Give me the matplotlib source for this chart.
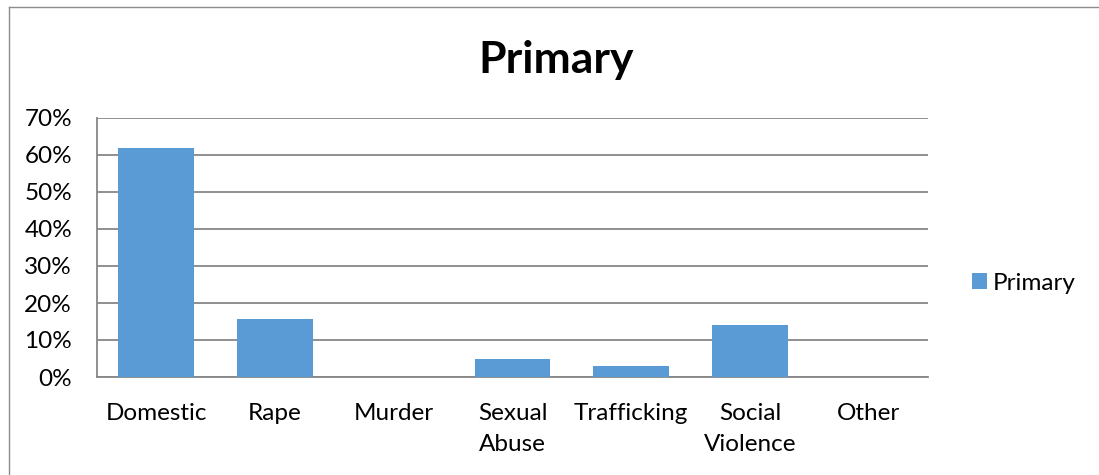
import matplotlib
matplotlib.use("Agg")
import matplotlib.pyplot as plt
from matplotlib.lines import Line2D
from matplotlib.ticker import PercentFormatter

categories = ["Domestic", "Rape", "Murder", "Sexual\nAbuse", "Trafficking", "Social\nViolence", "Other"]
primary = [62.0, 15.6, 0.0, 4.9, 3.1, 14.0, 0.0]

bar_color = "#5B9BD5"
grid_color = "#878787"

plt.rcParams["font.family"] = ["Lato", "DejaVu Sans"]

fig = plt.figure(figsize=(10.99, 4.75), dpi=100)

# chart frame: only the top and left edges fall inside the image
frame_x = 8.5 / 1099
frame_y = 1 - 6.5 / 475
fig.lines.append(Line2D([frame_x, 1.02], [frame_y, frame_y], transform=fig.transFigure,
                        color="#8c8c8c", linewidth=1.0))
fig.lines.append(Line2D([frame_x, frame_x], [-0.02, frame_y], transform=fig.transFigure,
                        color="#8c8c8c", linewidth=1.0))

ax = fig.add_axes([97 / 1099, 1 - 377 / 475, (928 - 97) / 1099, (377 - 118) / 475])

x = range(len(categories))
bars = ax.bar(x, primary, width=0.64, color=bar_color, label="Primary", zorder=3)

ax.set_xlim(-0.5, len(categories) - 0.5)
ax.set_ylim(0, 70)
ax.set_yticks(range(0, 71, 10))
ax.yaxis.set_major_formatter(PercentFormatter(decimals=0))
ax.set_xticks(list(x))
ax.set_xticklabels(categories, linespacing=1.55, va="top")
ax.tick_params(axis="both", length=0, labelsize=17.5, colors="black")
ax.tick_params(axis="x", pad=19)
ax.tick_params(axis="y", pad=18)

ax.grid(axis="y", color=grid_color, linewidth=1.3, zorder=0)
for side in ["top", "right"]:
    ax.spines[side].set_visible(False)
for side in ["left", "bottom"]:
    ax.spines[side].set_color(grid_color)
    ax.spines[side].set_linewidth(1.3)

fig.text(556 / 1099, 1 - 60 / 475, "Primary", ha="center", va="center",
         fontsize=32, fontweight="bold")

fig.legend(handles=[bars], labels=["Primary"], loc="center left",
           bbox_to_anchor=(955 / 1099, 1 - 283 / 475), frameon=False,
           fontsize=17.5, handlelength=0.6, handleheight=0.6, handletextpad=0.25,
           borderpad=0.2)

fig.savefig("out.png", dpi=100, facecolor="white")
